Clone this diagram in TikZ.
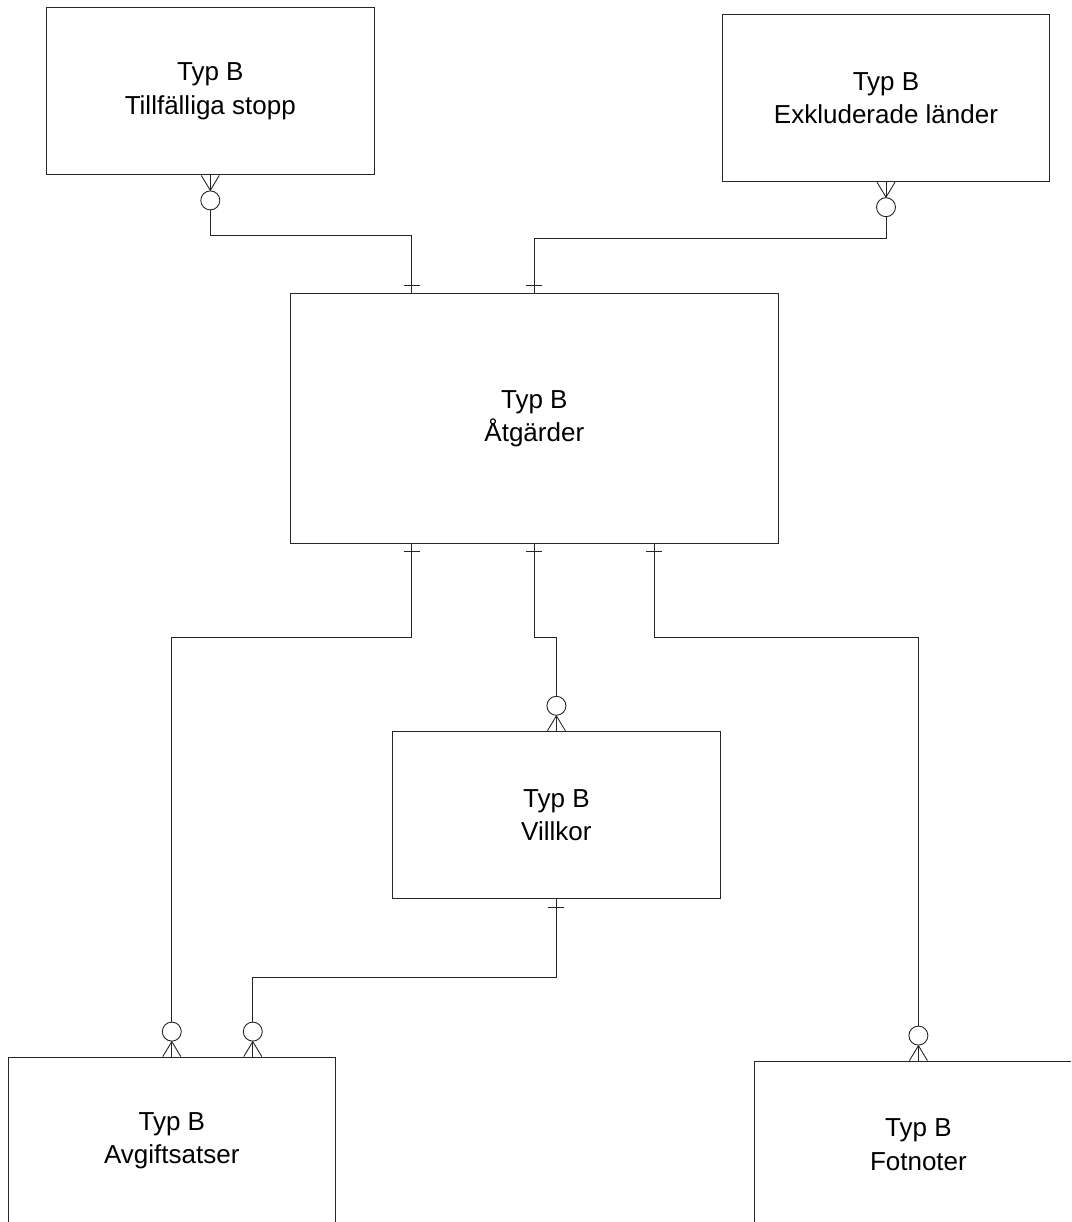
\documentclass[tikz,border=0pt]{standalone}
\usepackage{fontspec}
\setmainfont{Liberation Sans}
\begin{document}
\begin{tikzpicture}[x=1pt,y=-1pt,line width=0.9pt,
    entity/.style={draw=black!85,rectangle,inner sep=0pt,minimum width=327.5pt,minimum height=167.5pt,align=center,font=\fontsize{26}{33.3}\selectfont},
    link/.style={draw=black!85},
    manyopt/.pic={\draw[link] (-9,0) -- (0,15) -- (9,0); \draw[link] (0,0) -- (0,15); \draw[link,fill=white] (0,25) circle (9.5pt);},
    onebar/.pic={\draw[link] (-8,8) -- (8,8);}]
    \useasboundingbox (0,0) rectangle (1071,1222);
    \clip (0,0) rectangle (1071,1222);
    % entities
    \node[entity] (stopp) at (210.3,91.2) {Typ B\\Tillfälliga stopp};
    \node[entity] (exkl) at (886,98) {Typ B\\Exkluderade länder};
    \node[entity,minimum width=487.3pt,minimum height=249.3pt] (atg) at (534.3,418.6) {Typ B\\Åtgärder};
    \node[entity] (villkor) at (556.4,815) {Typ B\\Villkor};
    \node[entity] (avgift) at (171.8,1140.8) {Typ B\\Avgiftsatser};
    \node[entity] (fotnot) at (918.4,1144.8) {Typ B\\Fotnoter};
    % attachment points
    \coordinate (atgN1) at ([xshift=-122.6]atg.north);
    \coordinate (atgN2) at (atg.north);
    \coordinate (atgS1) at ([xshift=-122.6]atg.south);
    \coordinate (atgS2) at (atg.south);
    \coordinate (atgS3) at ([xshift=120]atg.south);
    \coordinate (avgiftN2) at ([xshift=81]avgift.north);
    % relations
    \draw[link] (stopp.south) -- ++(0,60) -| (atgN1);
    \draw[link] (exkl.south) -- ++(0,56.3) -| (atgN2);
    \draw[link] (atgS1) -- ++(0,94) -| (avgift.north);
    \draw[link] (atgS2) -- ++(0,93.5) -| (villkor.north);
    \draw[link] (atgS3) -- ++(0,94) -| (fotnot.north);
    \draw[link] (villkor.south) -- ++(0,78.3) -| (avgiftN2);
    % end marks
    \foreach \p in {stopp.south,exkl.south}
        \pic at (\p) {manyopt};
    \foreach \p in {villkor.north,avgift.north,avgiftN2,fotnot.north}
        \pic[rotate=180] at (\p) {manyopt};
    \foreach \p in {atgN1,atgN2}
        \pic[rotate=180] at (\p) {onebar};
    \foreach \p in {atgS1,atgS2,atgS3,villkor.south}
        \pic at (\p) {onebar};
\end{tikzpicture}
\end{document}
